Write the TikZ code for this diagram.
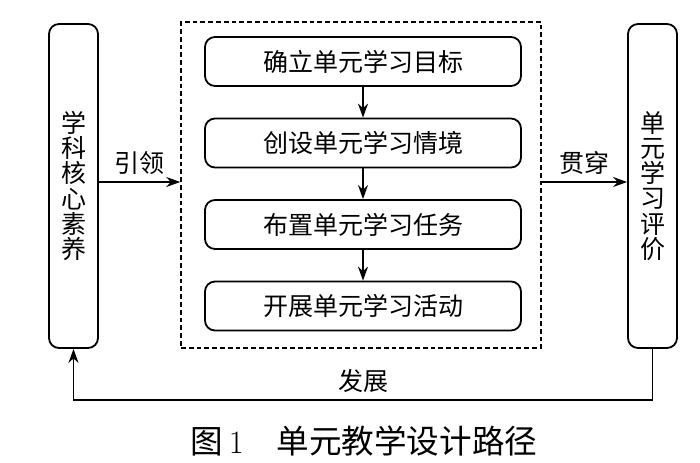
\documentclass[tikz,border=0pt]{standalone}
\usepackage{fontspec}
\usetikzlibrary{arrows.meta}
\newfontfamily\cjk{Noto Sans CJK SC}
\tikzstyle{stage} = [rectangle, draw, rounded corners=5pt, minimum width=158pt, minimum height=24.5pt, font=\cjk\fontsize{12.5}{12.5}\selectfont]
\tikzstyle{pillar} = [rectangle, draw, rounded corners=5pt, minimum width=24.5pt, minimum height=162pt, align=center, font=\cjk\fontsize{12.5}{12.6}\selectfont]
\tikzstyle{frame} = [rectangle, draw, dash pattern=on 2.4pt off 1.5pt, line width=0.75pt, minimum width=180pt, minimum height=163pt]
\tikzstyle{tag} = [font=\cjk\fontsize{12.5}{12.5}\selectfont]

\begin{document}
\begin{tikzpicture}[->,>={Stealth[length=7pt,width=5pt]},x=0.5pt,y=0.5pt,line width=0.9pt,node distance=40.75pt]
  \useasboundingbox (0,0) rectangle (700,-462);
  \node[stage] (goal) at (363,-61.5) {确立单元学习目标};
  \node[stage] (scene) [below of=goal] {创设单元学习情境};
  \node[stage] (task) [below of=scene] {布置单元学习任务};
  \node[stage] (activity) [below of=task] {开展单元学习活动};
  \node[frame] (unit) at (361,-185) {};
  \node[pillar] (core) at (73.5,-186) {学\\科\\核\\心\\素\\养};
  \node[pillar] (eval) at (652.5,-186) {单\\元\\学\\习\\评\\价};
  \coordinate (lead) at ([yshift=2pt]core.east);

  \path (goal) edge node {} (scene);
  \path (scene) edge node {} (task);
  \path (task) edge node {} (activity);
  \path (lead) edge node[tag,above] {引领} (lead -| unit.west);
  \path (lead -| unit.east) edge node[tag,above] {贯穿} (lead -| eval.west);
  \draw (eval.south) -- ++(0,-51) -| (core.south) node[tag,pos=0.25,above] {发展};

  \node[font=\fontsize{16.3}{16.3}\selectfont] (caption) at (364,-441) {{\cjk 图}\,1\hspace{1em}{\cjk 单元教学设计路径}};
\end{tikzpicture}
\end{document}
